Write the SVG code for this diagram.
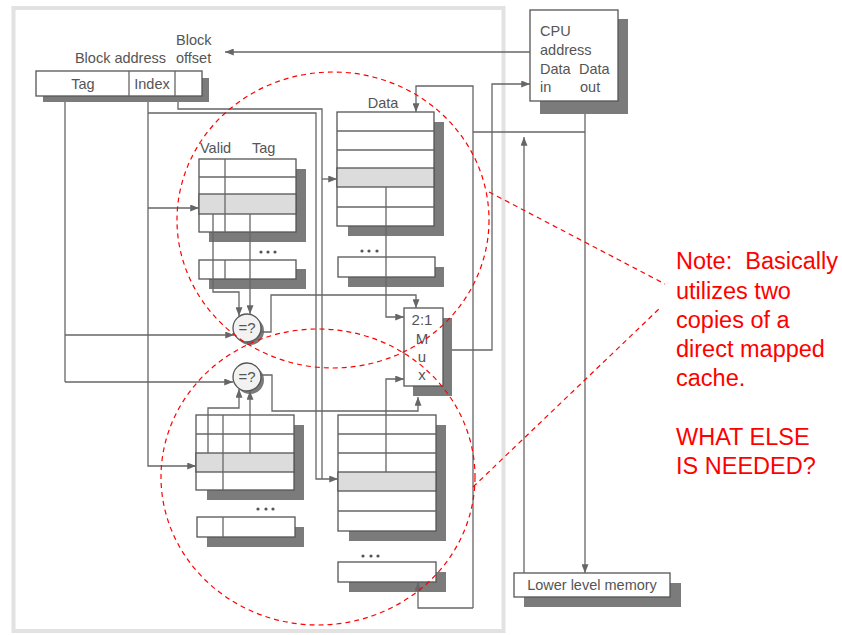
<svg xmlns="http://www.w3.org/2000/svg" width="842" height="635" viewBox="0 0 842 635">
<defs>
<style>
.bx{fill:#fff;stroke:#555;stroke-width:1.3}
.sh{fill:#7b7b7b}
.hl{fill:#dcdcdc;stroke:#555;stroke-width:1.3}
.ln{fill:none;stroke:#666;stroke-width:1.3}
.t{font-family:"Liberation Sans",Arial,sans-serif;font-size:14.5px;fill:#555}
.mx{font-family:"Liberation Sans",Arial,sans-serif;font-size:15px;fill:#555;text-anchor:middle}
.note{font-family:"Liberation Sans",Arial,sans-serif;font-size:23.5px;fill:#ff0000}
.rd{fill:none;stroke:#ff0000;stroke-width:1.2;stroke-dasharray:5,4}
.dot{fill:#555}
</style>
<marker id="ah" viewBox="0 0 10 8" refX="10" refY="4" markerWidth="10" markerHeight="7" orient="auto" markerUnits="userSpaceOnUse"><path d="M0,0 L10,4 L0,8 z" fill="#666"/></marker>
</defs>
<rect width="842" height="635" fill="#fff"/>
<rect id="frame" x="13.5" y="8" width="490" height="623" fill="none" stroke="#e2e2e2" stroke-width="4"/>

<g id="address-register">
<rect class="sh" x="43" y="78" width="166" height="24"/>
<rect class="bx" x="36" y="71" width="166" height="25"/>
<line class="ln" x1="129" y1="71" x2="129" y2="96"/>
<line class="ln" x1="175" y1="71" x2="175" y2="96"/>
<text class="t" x="83" y="89" text-anchor="middle">Tag</text>
<text class="t" x="152" y="89" text-anchor="middle">Index</text>
<text class="t" x="166" y="63" text-anchor="end">Block address</text>
<text class="t" x="176" y="45">Block</text>
<text class="t" x="176" y="63">offset</text>
</g>

<g id="cpu">
<rect class="sh" x="540" y="19" width="88" height="95"/>
<rect class="bx" x="530" y="10" width="88" height="91"/>
<text class="t" x="540" y="36">CPU</text>
<text class="t" x="540" y="55">address</text>
<text class="t" x="540" y="74">Data</text>
<text class="t" x="579" y="74">Data</text>
<text class="t" x="540" y="92">in</text>
<text class="t" x="580" y="92">out</text>
</g>

<g id="tag-array-1">
<text class="t" x="200" y="153">Valid</text>
<text class="t" x="252" y="153">Tag</text>
<rect class="sh" x="209" y="169" width="97" height="73"/>
<rect class="bx" x="199" y="159" width="97" height="73"/>
<rect class="hl" x="199" y="194" width="97" height="20"/>
<line class="ln" x1="199" y1="177" x2="296" y2="177"/>
<line class="ln" x1="225" y1="159" x2="225" y2="232"/>
<circle class="dot" cx="261" cy="252" r="1.6"/><circle class="dot" cx="268" cy="252" r="1.6"/><circle class="dot" cx="275" cy="252" r="1.6"/>
<rect class="sh" x="209" y="269" width="97" height="20"/>
<rect class="bx" x="199" y="260" width="97" height="19"/>
<line class="ln" x1="225" y1="260" x2="225" y2="279"/>
</g>

<g id="data-array-1">
<text class="t" x="383" y="108" text-anchor="middle">Data</text>
<rect class="sh" x="348" y="122" width="96" height="114"/>
<rect class="bx" x="337" y="112" width="97" height="114"/>
<rect class="hl" x="337" y="168" width="97" height="19"/>
<line class="ln" x1="337" y1="131" x2="434" y2="131"/>
<line class="ln" x1="337" y1="150" x2="434" y2="150"/>
<line class="ln" x1="337" y1="207" x2="434" y2="207"/>
<circle class="dot" cx="362" cy="251" r="1.6"/><circle class="dot" cx="369" cy="251" r="1.6"/><circle class="dot" cx="377" cy="251" r="1.6"/>
<rect class="sh" x="348" y="267" width="96" height="20"/>
<rect class="bx" x="338" y="257" width="97" height="20"/>
</g>

<g id="compare-1">
<circle cx="250" cy="331" r="14" fill="#7b7b7b"/>
<circle cx="247" cy="328" r="14" fill="#f2f2f2" stroke="#555" stroke-width="1.3"/>
<text class="mx" x="247" y="333">=?</text>
</g>

<g id="compare-2">
<circle cx="250" cy="380" r="14" fill="#7b7b7b"/>
<circle cx="247" cy="377" r="14" fill="#f2f2f2" stroke="#555" stroke-width="1.3"/>
<text class="mx" x="247" y="382">=?</text>
</g>

<g id="mux">
<rect class="sh" x="413" y="318" width="39" height="78"/>
<rect class="bx" x="404" y="308" width="39" height="78"/>
<text class="mx" x="422" y="325">2:1</text>
<text class="mx" x="422" y="344">M</text>
<text class="mx" x="422" y="362">u</text>
<text class="mx" x="422" y="380">x</text>
</g>

<g id="tag-array-2">
<rect class="sh" x="207" y="425" width="97" height="75"/>
<rect class="bx" x="196" y="415" width="98" height="75"/>
<rect class="hl" x="196" y="453" width="98" height="19"/>
<line class="ln" x1="196" y1="434" x2="294" y2="434"/>
<line class="ln" x1="223" y1="415" x2="223" y2="490"/>
<circle class="dot" cx="258" cy="509" r="1.6"/><circle class="dot" cx="266" cy="509" r="1.6"/><circle class="dot" cx="273" cy="509" r="1.6"/>
<rect class="sh" x="207" y="527" width="97" height="20"/>
<rect class="bx" x="197" y="517" width="98" height="20"/>
<line class="ln" x1="223" y1="517" x2="223" y2="537"/>
</g>

<g id="data-array-2">
<rect class="sh" x="349" y="425" width="97" height="116"/>
<rect class="bx" x="338" y="415" width="98" height="116"/>
<rect class="hl" x="338" y="472" width="98" height="19"/>
<line class="ln" x1="338" y1="434" x2="436" y2="434"/>
<line class="ln" x1="338" y1="453" x2="436" y2="453"/>
<line class="ln" x1="338" y1="511" x2="436" y2="511"/>
<circle class="dot" cx="363" cy="556" r="1.6"/><circle class="dot" cx="371" cy="556" r="1.6"/><circle class="dot" cx="378" cy="556" r="1.6"/>
<rect class="sh" x="349" y="572" width="97" height="20"/>
<rect class="bx" x="338" y="562" width="98" height="20"/>
</g>

<g id="lower-memory">
<rect class="sh" x="524" y="583" width="157" height="24"/>
<rect class="bx" x="514" y="573" width="156" height="24"/>
<text class="t" x="592" y="590" text-anchor="middle">Lower level memory</text>
</g>

<g id="connectors">
<line class="ln" x1="530" y1="52" x2="225" y2="52" marker-end="url(#ah)"/>
<polyline class="ln" points="65,102 65,382"/>
<line class="ln" x1="65" y1="335" x2="234" y2="335" marker-end="url(#ah)"/>
<line class="ln" x1="65" y1="382" x2="233" y2="382" marker-end="url(#ah)"/>
<polyline class="ln" points="148,102 148,466 196,466" marker-end="url(#ah)"/>
<line class="ln" x1="148" y1="208" x2="199" y2="208" marker-end="url(#ah)"/>
<polyline class="ln" points="148,113 316,113 316,479 338,479" marker-end="url(#ah)"/>
<polyline class="ln" points="178,102 178,109 322,109 322,479"/>
<line class="ln" x1="322" y1="179" x2="337" y2="179" marker-end="url(#ah)"/>
<polyline class="ln" points="213,214 213,292 239,292 239,316" marker-end="url(#ah)"/>
<line class="ln" x1="250" y1="214" x2="250" y2="314" marker-end="url(#ah)"/>
<polyline class="ln" points="208,453 208,408 239,408 239,389" marker-end="url(#ah)"/>
<line class="ln" x1="250" y1="453" x2="250" y2="391" marker-end="url(#ah)"/>
<polyline class="ln" points="261,332 271,332 271,295 416,295 416,308" marker-end="url(#ah)"/>
<polyline class="ln" points="261,375 272,375 272,411 418,411 418,397" marker-end="url(#ah)"/>
<polyline class="ln" points="386,187 386,317 404,317" marker-end="url(#ah)"/>
<polyline class="ln" points="386,472 386,379 404,379" marker-end="url(#ah)"/>
<polyline class="ln" points="452,350 492,350 492,84 530,84" marker-end="url(#ah)"/>
<line class="ln" x1="585" y1="114" x2="585" y2="573" marker-end="url(#ah)"/>
<line class="ln" x1="585" y1="132" x2="473" y2="132"/>
<polyline class="ln" points="473,608 473,86 416,86 416,112" marker-end="url(#ah)"/>
<polyline class="ln" points="473,608 418,608 418,582" marker-end="url(#ah)"/>
<line class="ln" x1="524" y1="573" x2="524" y2="137" marker-end="url(#ah)"/>
</g>

<g id="annotation">
<ellipse class="rd" cx="333" cy="220" rx="156" ry="148"/>
<ellipse class="rd" cx="318" cy="477" rx="157" ry="148"/>
<line class="rd" x1="489" y1="192" x2="665" y2="284"/>
<line class="rd" x1="473" y1="487" x2="660" y2="308"/>
<text class="note" x="676" y="269">Note:&#160; Basically</text>
<text class="note" x="676" y="299">utilizes two</text>
<text class="note" x="676" y="328">copies of a</text>
<text class="note" x="676" y="357">direct mapped</text>
<text class="note" x="676" y="386">cache.</text>
<text class="note" x="676" y="445">WHAT ELSE</text>
<text class="note" x="676" y="474">IS NEEDED?</text>
</g>
</svg>
